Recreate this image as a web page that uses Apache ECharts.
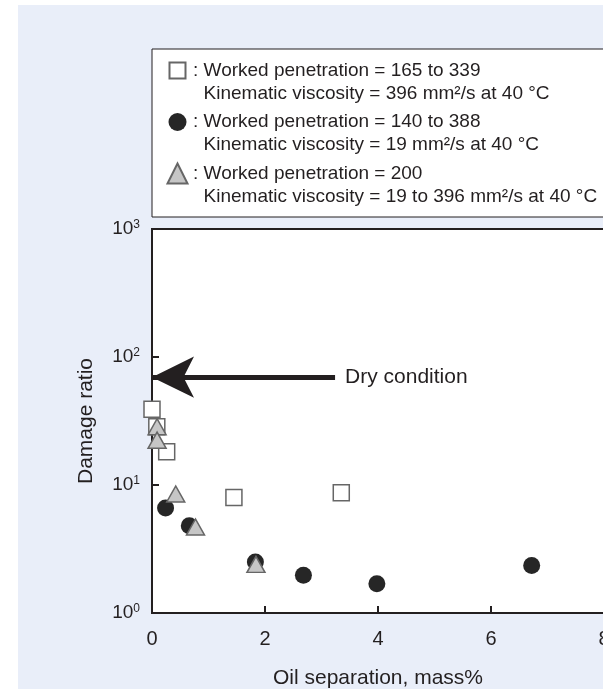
<!DOCTYPE html>
<html>
<head>
<meta charset="utf-8">
<script src="https://cdn.jsdelivr.net/npm/echarts@6/dist/echarts.min.js"></script>
<style>
  html, body { margin: 0; padding: 0; background: #ffffff; }
  #panel { position: absolute; left: 18px; top: 5px; right: 0; bottom: 0; background: #e9eef9; }
  #chart { position: absolute; left: 0; top: 0; width: 603px; height: 689px; }
</style>
</head>
<body>
<div id="panel"></div>
<div id="chart"></div>
<script>
// Axis ticks
const xTicks = [0, 2, 4, 6, 8];
const yExponents = [0, 1, 2, 3];

// Open squares: worked penetration 165–339, 396 mm²/s
const squareX = [0, 0.085, 0.26, 1.45, 3.35];
const squareY = [39, 28.5, 18.2, 8.0, 8.7];

// Filled circles: worked penetration 140–388, 19 mm²/s
const circleX = [0.24, 0.66, 1.83, 2.68, 3.98, 6.72];
const circleY = [6.6, 4.8, 2.5, 1.97, 1.69, 2.35];

// Grey triangles: worked penetration 200, 19–396 mm²/s
const triangleX = [0.09, 0.09, 0.42, 0.77, 1.84];
const triangleY = [28.5, 22.4, 8.5, 4.7, 2.4];

// Dry-condition reference level and where its arrow starts
const dryRatio = 69.6;
const dryArrowFrom = 3.24;
const dryLabel = 'Dry condition';

// Legend wording
const legendTitles = [
  'Worked penetration = 165 to 339',
  'Worked penetration = 140 to 388',
  'Worked penetration = 200'
];
const legendNotes = [
  'Kinematic viscosity = 396 mm²/s at 40 °C',
  'Kinematic viscosity = 19 mm²/s at 40 °C',
  'Kinematic viscosity = 19 to 396 mm²/s at 40 °C'
];

const FONT = '"Liberation Sans", Arial, Helvetica, sans-serif';
const INK = '#231f20';

const pairs = (xs, ys) => xs.map((x, i) => [x, ys[i]]);

// Legend icons: the visible glyph sits on the first text line; the two bare
// move-to points pin the icon box to the full two-line item height.
const ICON_W = 21, ICON_H = 46;
const pin = 'M0,0 M' + ICON_W + ',' + ICON_H + ' ';
const iconSquare = 'path://' + pin + 'M2.5,3.5 L18.5,3.5 L18.5,19.5 L2.5,19.5 Z';
const iconCircle = 'path://' + pin + 'M1.5,11.5 A9,9 0 1,1 19.5,11.5 A9,9 0 1,1 1.5,11.5 Z';
const iconTriangle = 'path://' + pin + 'M10.5,1.5 L20.5,21.5 L0.5,21.5 Z';

const chart = echarts.init(document.getElementById('chart'), null, { renderer: 'canvas' });

chart.setOption({
  animation: false,
  backgroundColor: 'transparent',
  textStyle: { fontFamily: FONT, color: INK },
  grid: {
    left: 152, top: 229, width: 452, height: 384,
    containLabel: false,
    outerBoundsMode: 'none',
    show: true, backgroundColor: '#ffffff', borderColor: INK, borderWidth: 2
  },
  legend: {
    orient: 'vertical',
    left: 152, top: 49,
    padding: [9, 40, 8, 14],
    itemWidth: ICON_W, itemHeight: ICON_H, itemGap: 4.5,
    backgroundColor: '#ffffff', borderColor: INK, borderWidth: 1,
    selectedMode: false,
    textStyle: { fontFamily: FONT, fontSize: 19, lineHeight: 23, color: INK },
    formatter: name => {
      const i = legendTitles.indexOf(name);
      return ': ' + name + '\n\u00a0\u00a0' + legendNotes[i];
    },
    data: [
      { name: legendTitles[0], icon: iconSquare },
      { name: legendTitles[1], icon: iconCircle },
      { name: legendTitles[2], icon: iconTriangle }
    ]
  },
  xAxis: {
    type: 'value',
    min: xTicks[0], max: xTicks[xTicks.length - 1], interval: xTicks[1] - xTicks[0],
    name: 'Oil separation, mass%',
    nameLocation: 'middle', nameGap: 55,
    nameTextStyle: { fontFamily: FONT, fontSize: 21, color: INK },
    axisLine: { lineStyle: { color: INK, width: 2 } },
    axisTick: { inside: true, length: 7, lineStyle: { color: INK, width: 2 } },
    axisLabel: { fontFamily: FONT, fontSize: 20, color: INK, margin: 16 },
    splitLine: { show: false }
  },
  yAxis: {
    type: 'log', logBase: 10,
    min: Math.pow(10, yExponents[0]), max: Math.pow(10, yExponents[yExponents.length - 1]),
    name: 'Damage ratio',
    nameLocation: 'middle', nameGap: 55, nameRotate: 90,
    nameTextStyle: { fontFamily: FONT, fontSize: 21, color: INK },
    axisLine: { lineStyle: { color: INK, width: 2 } },
    axisTick: { inside: true, length: 7, lineStyle: { color: INK, width: 2 } },
    axisLabel: {
      margin: 12,
      fontFamily: FONT, fontSize: 19, lineHeight: 20, color: INK,
      formatter: v => {
        const e = yExponents.find(k => Math.abs(Math.pow(10, k) - v) < 1e-6 * v);
        return e === undefined ? '' : '10{s|' + e + '}';
      },
      rich: { s: { fontFamily: FONT, fontSize: 12, lineHeight: 12, verticalAlign: 'top', color: INK } }
    },
    splitLine: { show: false }
  },
  series: [
    {
      name: legendTitles[0], type: 'scatter', symbol: 'rect', symbolSize: 16,
      itemStyle: { color: '#ffffff', borderColor: '#666666', borderWidth: 1.5, opacity: 1 },
      emphasis: { disabled: true },
      data: pairs(squareX, squareY), z: 2
    },
    {
      name: legendTitles[1], type: 'scatter', symbol: 'circle', symbolSize: 17,
      itemStyle: { color: '#262626', opacity: 1 },
      emphasis: { disabled: true },
      data: pairs(circleX, circleY), z: 3,
      markLine: {
        silent: true,
        symbol: ['none', 'arrow'],
        symbolSize: [31, 42],
        lineStyle: { color: INK, width: 5, type: 'solid' },
        label: {
          show: true, position: 'start', distance: 10,
          formatter: dryLabel,
          fontFamily: FONT, fontSize: 21, color: INK
        },
        data: [[{ coord: [dryArrowFrom, dryRatio] }, { coord: [0, dryRatio] }]]
      }
    },
    {
      name: legendTitles[2], type: 'scatter', symbol: 'triangle', symbolSize: [18, 16],
      itemStyle: { color: '#c6c6c6', borderColor: '#666666', borderWidth: 1.5, opacity: 1 },
      emphasis: { disabled: true },
      data: pairs(triangleX, triangleY), z: 4
    }
  ]
});
</script>
</body>
</html>
